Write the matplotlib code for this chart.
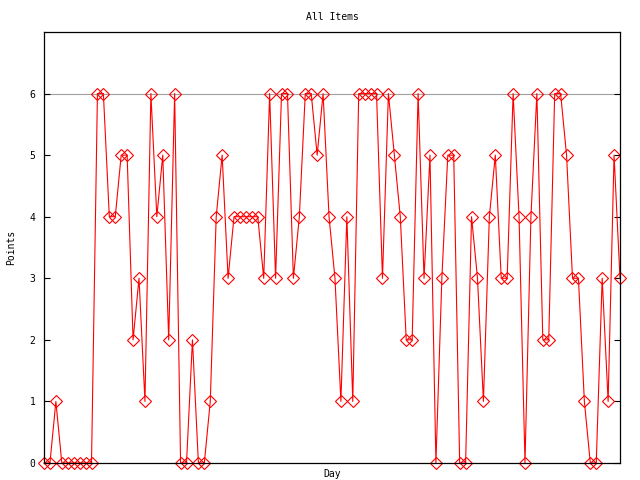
import matplotlib
matplotlib.use('Agg')
import matplotlib.pyplot as plt
import numpy as np

# Points per day
points = [0, 0, 1, 0, 0, 0, 0, 0, 0, 6,
          6, 4, 4, 5, 5, 2, 3, 1, 6, 4,
          5, 2, 6, 0, 0, 2, 0, 0, 1, 4,
          5, 3, 4, 4, 4, 4, 4, 3, 6, 3,
          6, 6, 3, 4, 6, 6, 5, 6, 4, 3,
          1, 4, 1, 6, 6, 6, 6, 3, 6, 5,
          4, 2, 2, 6, 3, 5, 0, 3, 5, 5,
          0, 0, 4, 3, 1, 4, 5, 3, 3, 6,
          4, 0, 4, 6, 2, 2, 6, 6, 5, 3,
          3, 1, 0, 0, 3, 1, 5, 3]
days = np.arange(1, len(points) + 1)
max_points = 6
ytick_values = [0, 1, 2, 3, 4, 5, 6]

plt.rcParams['font.family'] = 'DejaVu Sans Mono'
plt.rcParams['font.size'] = 7

fig = plt.figure(figsize=(6.4, 4.8), dpi=100)
ax = fig.add_axes([44 / 640, 17 / 480, 576 / 640, 431 / 480])

# max line
ax.axhline(max_points, color='#a0a0a0', lw=0.8, zorder=1)

ax.plot(days, points, color='red', lw=0.8, marker='D', ms=6,
        mfc='none', mec='red', mew=0.8, zorder=2, clip_on=False)

ax.set_xlim(days[0], days[-1])
ax.set_ylim(0, 7)
ax.set_xticks([])
ax.set_yticks(ytick_values)
ax.tick_params(axis='y', direction='in', length=4, width=0.8,
               right=True, pad=6)
for s in ax.spines.values():
    s.set_linewidth(0.9)

ax.set_title('All Items', fontsize=7, pad=9)
ax.set_xlabel('Day', labelpad=4.5)
ax.set_ylabel('Points', labelpad=10)

fig.savefig('out.png', dpi=100)
